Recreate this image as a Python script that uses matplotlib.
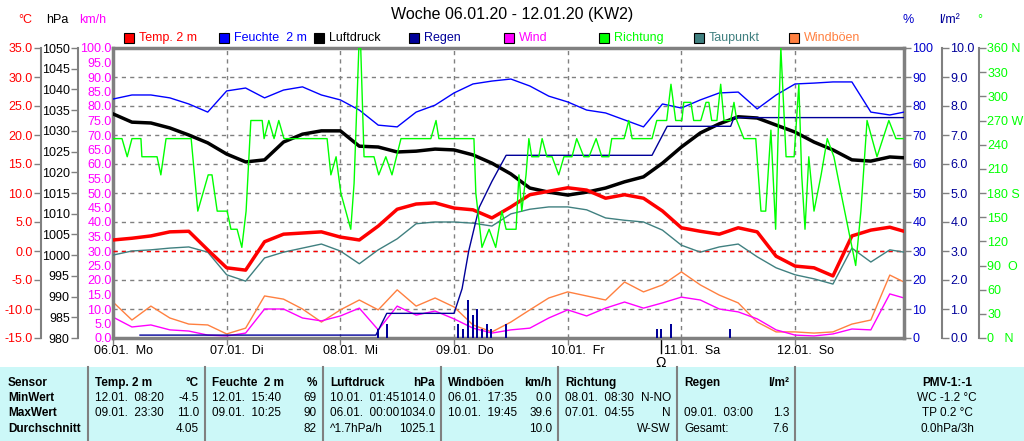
import matplotlib
matplotlib.use("Agg")
import matplotlib.pyplot as plt
from matplotlib.patches import Rectangle
import numpy as np

plt.rcParams['font.family'] = ['Liberation Sans', 'DejaVu Sans']

# ---------------- data ----------------
hours = [0,4,8,12,16,20,24,28,32,36,40,44,48,52,56,60,64,68,72,76,80,84,88,92,96,100,
         104,108,112,116,120,124,128,132,136,140,144,148,152,156,160,164,167]
temp = [1.9,2.2,2.6,3.3,3.4,0.2,-2.9,-3.3,1.6,2.9,3.1,3.3,2.4,1.9,4.3,7.2,8.1,8.3,7.4,7.1,5.7,
        7.6,9.7,10.3,10.9,10.5,9.1,9.7,9.1,6.9,4.0,3.4,2.9,4.0,3.3,-0.9,-2.6,-2.9,-4.3,2.6,3.6,4.1,3.4]
dewpoint = [-0.7,0,0.2,0.5,0.7,-0.2,-4.1,-5.2,-1.2,-0.2,0.5,1.2,0,-2.2,0.2,2.1,4.7,5.0,5.0,4.8,4.3,
            6.4,7.2,7.6,7.6,7.1,5.7,5.3,5.0,3.6,1.0,-0.2,0.7,1.2,-1.0,-2.9,-4.1,-4.8,-5.7,0.5,-1.9,0.2,-0.2]
pressure = [1034.1,1032.1,1031.9,1030.7,1029.0,1027.1,1024.4,1022.5,1023.0,1027.3,1029.2,1030.0,1030.0,
            1026.3,1026.1,1024.9,1025.1,1025.6,1025.4,1024.2,1022.2,1019.6,1016.2,1015.2,1014.5,1015.2,
            1016.2,1017.7,1018.9,1022.2,1026.1,1029.5,1031.7,1033.4,1033.1,1031.4,1029.7,1027.3,1025.4,
            1023.0,1022.7,1023.7,1023.5]
humidity = [82.4,83.8,83.8,82.8,80.7,77.9,85.2,86.2,82.8,85.5,86.6,83.8,82.1,78.6,73.4,72.8,77.9,80.3,
            84.5,87.6,88.6,89.3,86.9,83.4,81.4,78.6,77.6,75.2,72.8,80.7,79.3,82.1,84.5,84.8,79.0,83.8,
            87.6,87.9,88.3,88.3,77.9,76.9,77.9]
gust = [12.4,6.2,11.0,6.9,4.8,4.5,1.4,3.4,14.5,13.4,10.0,5.5,9.7,13.1,9.7,16.6,11.0,13.8,10.7,4.5,2.1,
        5.5,9.7,13.8,15.9,14.5,13.1,19.3,15.9,18.3,22.8,18.3,14.8,12.1,5.5,2.1,2.1,1.7,2.1,4.8,6.2,21.7,19.3]
wind = [7.2,3.8,4.5,2.8,2.4,1.0,0.7,1.7,10.0,10.0,6.9,5.9,7.6,10.3,2.8,11.0,7.9,9.3,6.6,3.4,1.7,2.8,
        3.4,6.9,9.7,7.6,10.3,12.4,10.3,12.1,14.1,13.1,10.0,9.0,6.6,2.8,1.0,0.7,1.4,3.1,2.8,15.2,13.8]

dir_hours = [0,1.9,3.0,4.0,5.9,6.1,9.3,10.1,11.2,16.5,17.9,20.1,20.9,22.0,24.1,24.9,26.2,27.2,28.1,29.1,
             31.5,31.9,32.9,34.0,35.0,36.1,45.2,46.0,47.1,48.1,50.2,50.9,51.9,52.3,53.0,55.1,56.1,57.6,
             58.9,60.8,67.1,68.2,68.8,76.2,76.6,77.9,79.4,80.8,82.1,83.0,85.1,85.7,86.3,87.2,87.8,88.4,
             89.9,90.6,91.6,92.7,94.1,95.2,96.9,97.9,99.4,100.5,102.0,103.2,104.7,105.3,107.9,108.9,
             109.6,113.8,114.8,116.9,117.8,118.8,120.1,120.5,122.0,122.6,124.1,125.2,125.8,126.4,127.5,
             128.3,129.0,130.4,131.1,131.7,133.2,135.7,136.8,137.8,138.9,139.9,140.4,141.0,142.1,143.8,
             144.8,145.4,146.1,146.9,148.0,149.5,150.8,152.2,153.7,156.8,157.9,159.2,161.3,163.8,165.3,166.8]
direction = [247.5,247.5,225,247.5,247.5,225,225,202.5,247.5,247.5,157.5,202.5,202.5,157.5,157.5,135,135,
             112.5,157.5,270,270,247.5,270,247.5,270,247.5,247.5,202.5,225,180,135,192,360,360,225,225,
             202.5,225,202.5,247.5,247.5,270,247.5,247.5,180,112.5,135,112.5,157.5,135,135,202.5,157.5,
             202.5,247.5,225,225,247.5,225,225,202.5,225,225,247.5,225,225,247.5,225,225,247.5,247.5,270,
             247.5,247.5,270,270,315,270,270,292.5,292.5,270,270,292.5,292.5,270,270,315,270,270,292.5,
             270,247.5,247.5,157.5,157.5,258,135,247.5,360,225,225,315,202.5,135,225,157.5,202.5,247.5,
             225,180,90,157.5,270,225,270,247.5,247.5]

rain_sum_hours = [5.7,55.5,57.8,72,73.7,75.1,77.3,80,83,113.8,117,130.4,131.1,167]
rain_sum = [0.1,0.1,0.85,0.85,1.7,3.0,4.5,5.4,6.3,6.3,7.3,7.3,7.6,7.6]
rain_hours = [55.9,57.8,72.8,73.9,74.9,76.0,76.8,77.9,78.9,79.8,83.0,114.8,115.7,117.8,130.3]
rain = [0.3,0.5,0.5,0.3,1.3,0.8,1.0,0.3,0.5,0.3,0.5,0.3,0.3,0.5,0.3]

day_labels = ["06.01.  Mo", "07.01.  Di", "08.01.  Mi", "09.01.  Do", "10.01.  Fr", "11.01.  Sa", "12.01.  So"]
title = "Woche 06.01.20 - 12.01.20 (KW2)"
legend_names = ["Temp. 2 m", "Feuchte  2 m", "Luftdruck", "Regen", "Wind", "Richtung", "Taupunkt", "Windböen"]
legend_colors = ["#ff0000", "#0000ff", "#000000", "#000099", "#ff00ff", "#00ff00", "#408080", "#ff8040"]
deg_labels = ["0   N", "30", "60", "90  O", "120", "150", "180 S", "210", "240", "270 W", "300", "330", "360 N"]

table_rows = ["Sensor", "MinWert", "MaxWert", "Durchschnitt"]
table_cols = [
    ("Temp. 2 m", "°C", ["12.01.  08:20", "09.01.  23:30", ""], ["-4.5", "11.0", "4.05"]),
    ("Feuchte  2 m", "%", ["12.01.  15:40", "09.01.  10:25", ""], ["69", "90", "82"]),
    ("Luftdruck", "hPa", ["10.01.  01:45", "06.01.  00:00", "^1.7hPa/h"], ["1014.0", "1034.0", "1025.1"]),
    ("Windböen", "km/h", ["06.01.  17:35", "10.01.  19:45", ""], ["0.0", "39.6", "10.0"]),
    ("Richtung", "", ["08.01.  08:30", "07.01.  04:55", ""], ["N-NO", "N", "W-SW"]),
    ("Regen", "l/m²", ["", "09.01.  03:00", "Gesamt:"], ["", "1.3", "7.6"]),
]
pmv_lines = ["PMV-1:-1", "WC -1.2 °C", "TP 0.2 °C", "0.0hPa/3h"]

# ---------------- figure ----------------
W, H = 1024, 441
fig = plt.figure(figsize=(W/100, H/100), dpi=100)
fig.patch.set_facecolor("white")
L, R, T, B = 113, 904, 48, 338
ax = fig.add_axes([L/W, 1-B/H, (R-L)/W, (B-T)/H])
grey = "#808080"
fs = 9
tfs = 8.5

ax.set_xlim(0, 167)
ax.set_ylim(0, 100)
for s in ax.spines.values():
    s.set_color(grey); s.set_linewidth(2.5)
day_ticks = [24*i for i in range(7)]
ax.set_xticks(day_ticks)
ax.set_xticklabels([])
ax.tick_params(axis='x', length=5, color=grey, width=1)
for d in day_ticks[1:]:
    ax.axvline(d, color=grey, ls=(0, (3, 3)), lw=1, zorder=0)
for yv in range(10, 100, 10):
    ax.axhline(yv, color=grey, ls=(0, (3, 3)), lw=1, zorder=0)
for i, lab in enumerate(day_labels):
    ax.text(24*i + 2.2, -4.5, lab, ha='center', va='center', fontsize=fs, clip_on=False)

# km/h axis (main left)
ax.set_yticks(range(0, 101, 5))
ax.set_yticklabels([f"{v:.1f}" for v in range(0, 101, 5)], color="#ff00ff", fontsize=fs)
ax.tick_params(axis='y', length=0, pad=1)

def side_axis(offset, side, lo, hi, ticks, labels, color):
    a = ax.twinx()
    a.set_ylim(lo, hi)
    a.set_xlim(0, 167)
    for s in a.spines.values():
        s.set_visible(False)
    a.spines[side].set_visible(True)
    a.spines[side].set_position(('axes', offset))
    a.spines[side].set_color(grey)
    a.spines[side].set_linewidth(1.5)
    a.yaxis.set_ticks_position(side)
    a.yaxis.set_label_position(side)
    a.set_yticks(ticks)
    a.set_yticklabels(labels, color=color, fontsize=fs)
    a.tick_params(axis='y', length=5, color=grey, width=1, pad=1)
    a.patch.set_visible(False)
    return a

ax_hpa = side_axis(-35/791, 'left', 980, 1050, range(980, 1051, 5), [str(v) for v in range(980, 1051, 5)], "black")
ax_c = side_axis(-72/791, 'left', -15, 35, range(-15, 36, 5), [f"{v:.1f}" for v in range(-15, 36, 5)], "#ff0000")
ax_pct = side_axis(1.0, 'right', 0, 100, range(0, 101, 10), [str(v) for v in range(0, 101, 10)], "#0000cc")
ax_pct.spines['right'].set_visible(False)
ax_rain = side_axis(1 + 38/791, 'right', 0, 10, range(0, 11), [f"{v:.1f}" for v in range(0, 11)], "#000099")
ax_deg = side_axis(1 + 75/791, 'right', 0, 360, range(0, 361, 30), deg_labels, "#00ff00")

# series
ax_pct.plot(hours, humidity, color="#0000ff", lw=1)
ax_deg.plot(dir_hours, direction, color="#00ff00", lw=1)
ax_hpa.plot(hours, pressure, color="black", lw=2.5)
ax_c.axhline(0, color="#ff0000", ls=(0, (3, 3)), lw=1)
ax_c.plot(hours, dewpoint, color="#408080", lw=1)
ax_c.plot(hours, temp, color="#ff0000", lw=2.5)
ax.plot(hours, gust, color="#ff8040", lw=1)
ax.plot(hours, wind, color="#ff00ff", lw=1)
ax_rain.plot(rain_sum_hours, rain_sum, color="#000099", lw=1)
ax_rain.bar(rain_hours, rain, width=0.45, color="#000099")

# marker symbol below the axis
ax.plot([115.7, 115.7], [0, -5], color="black", lw=1, clip_on=False)
ax.text(115.7, -8.5, "Ω", ha='center', va='center', fontsize=10, clip_on=False)

# units
for x, txt, col in [(25, "°C", "#ff0000"), (57, "hPa", "black"), (93, "km/h", "#ff00ff"),
                    (908, "%", "#0000cc"), (950, "l/m²", "#000099"), (980, "°", "#00ff00")]:
    fig.text(x/W, 1-20/H, txt, color=col, fontsize=fs, ha='center', va='center')

fig.text(512/W, 1-14/H, title, fontsize=11.5, ha='center', va='center')

# legend
for i, (name, col) in enumerate(zip(legend_names, legend_colors)):
    x0 = 124 + 95*i
    fig.patches.append(Rectangle((x0/W, 1-43/H), 10/W, 10/H, transform=fig.transFigure,
                                 facecolor=col, edgecolor="black", lw=0.8))
    fig.text((x0+15)/W, 1-38/H, name, color=col, fontsize=fs, ha='left', va='center')

# table
fig.patches.append(Rectangle((0, 0), 1, (H-367)/H, transform=fig.transFigure,
                             facecolor="#ccf8f8", edgecolor="none"))
col_edges = [88, 205, 323, 441, 558, 677, 795]
for cx in col_edges:
    fig.add_artist(plt.Line2D([cx/W, cx/W], [0, (H-367)/H], color=grey, lw=1.5))
row_y = [383, 398, 413, 429]
for j, r in enumerate(table_rows):
    fig.text(8/W, 1-row_y[j]/H, r, fontsize=tfs, weight='bold', va='center')
for k, (hdr, unit, lefts, rights) in enumerate(table_cols):
    xl = col_edges[k] + 7
    xr = col_edges[k+1] - 6
    fig.text(xl/W, 1-row_y[0]/H, hdr, fontsize=tfs, weight='bold', va='center')
    fig.text(xr/W, 1-row_y[0]/H, unit, fontsize=tfs, weight='bold', va='center', ha='right')
    for j in range(3):
        fig.text(xl/W, 1-row_y[j+1]/H, lefts[j], fontsize=tfs, va='center')
        fig.text(xr/W, 1-row_y[j+1]/H, rights[j], fontsize=tfs, va='center', ha='right')
for j, t in enumerate(pmv_lines):
    fig.text(947/W, 1-row_y[j]/H, t, fontsize=tfs, va='center', ha='center',
             weight='bold' if j == 0 else 'normal')

fig.savefig("out.png", dpi=100)
